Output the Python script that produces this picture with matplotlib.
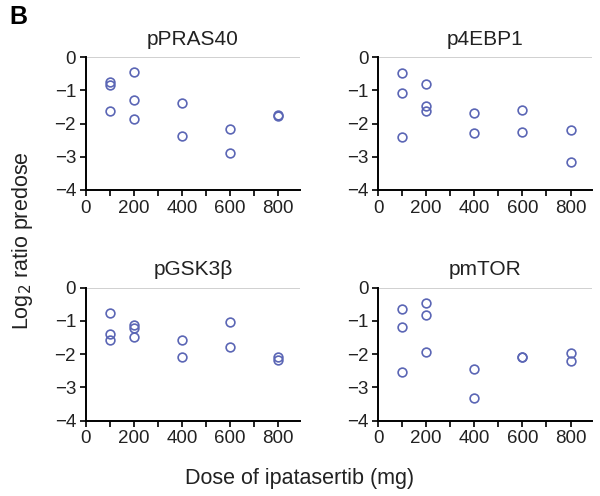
import matplotlib.pyplot as plt
from matplotlib.ticker import MultipleLocator

plt.rcParams['font.family'] = ['Liberation Sans', 'DejaVu Sans']

titulos = ['pPRAS40', 'p4EBP1', 'pGSK3β', 'pmTOR']

dose_pras40 = [100, 100, 100, 200, 200, 200, 400, 400, 600, 600, 800, 800]
log2_pras40 = [-0.75, -0.85, -1.62, -0.45, -1.30, -1.85, -1.37, -2.38, -2.18, -2.88, -1.75, -1.78]

dose_4ebp1 = [100, 100, 100, 200, 200, 200, 400, 400, 600, 600, 800, 800]
log2_4ebp1 = [-0.48, -1.08, -2.41, -0.81, -1.48, -1.63, -1.68, -2.30, -1.60, -2.25, -2.21, -3.15]

dose_gsk3b = [100, 100, 100, 200, 200, 200, 400, 400, 600, 600, 800, 800]
log2_gsk3b = [-0.75, -1.38, -1.58, -1.13, -1.20, -1.48, -1.57, -2.10, -1.02, -1.80, -2.08, -2.18]

dose_mtor = [100, 100, 100, 200, 200, 200, 400, 400, 600, 600, 800, 800]
log2_mtor = [-0.63, -1.18, -2.53, -0.46, -0.81, -1.93, -2.45, -3.33, -2.08, -2.10, -1.98, -2.21]

doses = [dose_pras40, dose_4ebp1, dose_gsk3b, dose_mtor]
valores = [log2_pras40, log2_4ebp1, log2_gsk3b, log2_mtor]

fig = plt.figure(figsize=(6, 4.96), dpi=100)

# posicoes dos paineis (fracao da figura)
posicoes = [
    [0.143, 0.617, 0.357, 0.268],
    [0.630, 0.617, 0.357, 0.268],
    [0.143, 0.152, 0.357, 0.268],
    [0.630, 0.152, 0.357, 0.268],
]

cor = '#5b66b5'

for pos, titulo, x, y in zip(posicoes, titulos, doses, valores):
    ax = fig.add_axes(pos)
    ax.axhline(0, color='#c8c8c8', linewidth=1.2, zorder=1)
    ax.plot(x, y, linestyle='none', marker='o', markersize=6.3,
            markerfacecolor='none', markeredgecolor=cor, markeredgewidth=1.2,
            zorder=3)
    ax.set_xlim(0, 890)
    ax.set_ylim(-4, 0)
    ax.set_xticks([0, 200, 400, 600, 800])
    ax.xaxis.set_minor_locator(MultipleLocator(100))
    ax.set_yticks([0, -1, -2, -3, -4])
    ax.set_yticklabels(['0', '\u22121', '\u22122', '\u22123', '\u22124'])
    ax.spines['top'].set_visible(False)
    ax.spines['right'].set_visible(False)
    ax.spines['left'].set_linewidth(1.4)
    ax.spines['bottom'].set_linewidth(1.4)
    ax.spines['left'].set_bounds(-4, 0)
    ax.tick_params(axis='both', which='major', length=4, width=1.4,
                   labelsize=13.5, colors='#222222', pad=3)
    ax.tick_params(axis='x', which='minor', length=4, width=1.4, color='#222222')
    ax.set_title(titulo, fontsize=15, color='#222222', pad=9)

fig.text(0.015, 0.99, 'B', fontsize=18, fontweight='bold', va='top', ha='left')
fig.text(0.037, 0.515, 'Log$_2$ ratio predose', rotation=90, fontsize=15.5,
         color='#222222', va='center', ha='center')
fig.text(0.5, 0.035, 'Dose of ipatasertib (mg)', fontsize=15.5,
         color='#222222', va='center', ha='center')

plt.savefig('out.png', dpi=100)
